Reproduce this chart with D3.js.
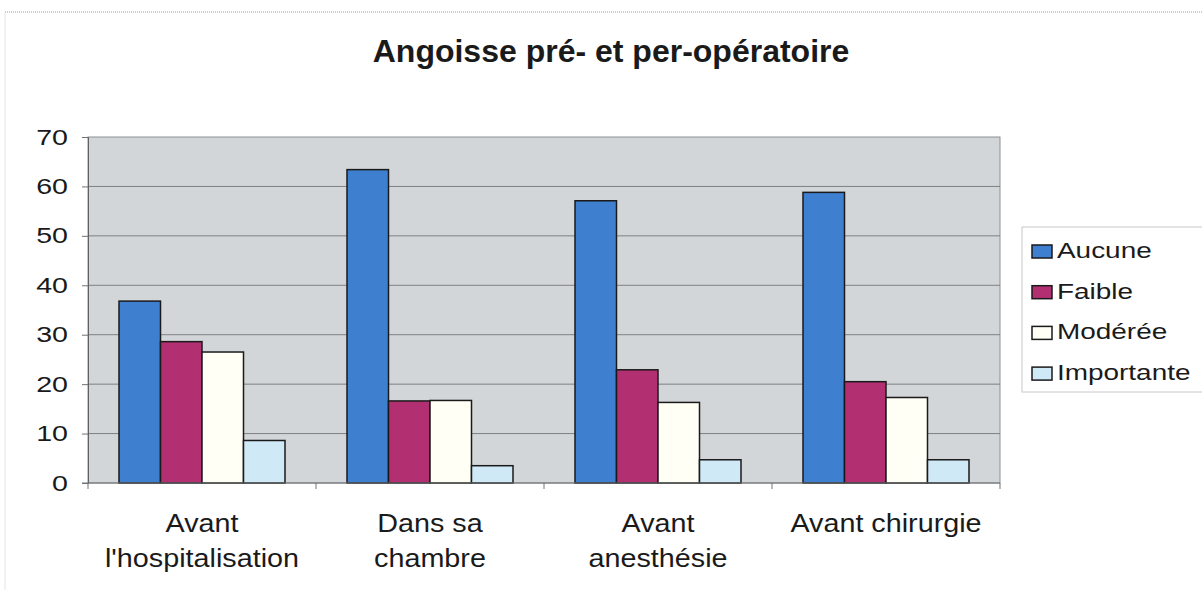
<!DOCTYPE html>
<html>
<head>
<meta charset="utf-8">
<script src="https://cdn.jsdelivr.net/npm/d3@7"></script>
<style>
  body { margin: 0; background: #fff; }
  text { font-family: "Liberation Sans", Arial, sans-serif; fill: #1a1a1a; }
</style>
</head>
<body>
<div id="chart"></div>
<script>
const title = "Angoisse pré- et per-opératoire";
const categories = [
  ["Avant", "l'hospitalisation"],
  ["Dans sa", "chambre"],
  ["Avant", "anesthésie"],
  ["Avant chirurgie"]
];
const seriesNames = ["Aucune", "Faible", "Modérée", "Importante"];
const aucune = [36.8, 63.4, 57.1, 58.8];
const faible = [28.6, 16.6, 22.9, 20.5];
const moderee = [26.5, 16.7, 16.3, 17.3];
const importante = [8.6, 3.5, 4.7, 4.7];
const yTicks = [0, 10, 20, 30, 40, 50, 60, 70];

const seriesValues = [aucune, faible, moderee, importante];
const colors = ["#3f7fd0", "#b23071", "#fffff6", "#cfe9f7"];

const width = 1202, height = 596;
const margin = { left: 88, right: 202, top: 137, bottom: 113 };
const plotW = width - margin.left - margin.right;
const plotH = height - margin.top - margin.bottom;
const stretch = 1.3;    // the scanned tick text is wider than it is tall
const catStretch = 1.15;

const svg = d3.select("#chart").append("svg")
  .attr("width", width)
  .attr("height", height);

// page frame (thin dotted top line and faint left edge)
svg.append("line")
  .attr("x1", 5).attr("x2", width).attr("y1", 12).attr("y2", 12)
  .attr("stroke", "#9a9a9a").attr("stroke-dasharray", "1,1");
svg.append("line")
  .attr("x1", 5).attr("x2", 5).attr("y1", 12).attr("y2", 590)
  .attr("stroke", "#e4e4e4");

svg.append("text")
  .attr("x", 611).attr("y", 62)
  .attr("text-anchor", "middle")
  .attr("font-size", 32)
  .attr("font-weight", "bold")
  .text(title);

const g = svg.append("g").attr("transform", `translate(${margin.left},${margin.top})`);

const x0 = d3.scaleBand().domain(d3.range(categories.length)).range([0, plotW]);
const x1 = d3.scaleBand().domain(d3.range(seriesNames.length)).range([31, x0.bandwidth() - 31]);
const y = d3.scaleLinear().domain([0, 70]).range([plotH, 0]);

g.append("rect")
  .attr("width", plotW).attr("height", plotH)
  .attr("fill", "#d3d6d8")
  .attr("stroke", "#8c8f92");

g.append("g")
  .selectAll("line")
  .data(yTicks.filter(d => d > 0 && d < 70))
  .join("line")
  .attr("x1", 0).attr("x2", plotW)
  .attr("y1", d => y(d)).attr("y2", d => y(d))
  .attr("stroke", "#7d8083");

// y axis
const yAxis = g.append("g")
  .call(d3.axisLeft(y).tickValues(yTicks).tickSize(6).tickPadding(14));
yAxis.select(".domain").attr("stroke", "#5f6265");
yAxis.selectAll(".tick line").attr("stroke", "#6f7275");
yAxis.selectAll(".tick text")
  .attr("font-size", 22)
  .attr("fill", "#1a1a1a")
  .attr("font-family", "Liberation Sans, Arial, sans-serif")
  .attr("x", -20 / stretch)
  .attr("transform", `scale(${stretch},1)`);

// bars
const groups = g.append("g")
  .selectAll("g")
  .data(categories.map((c, i) => i))
  .join("g")
  .attr("transform", i => `translate(${x0(i)},0)`);

groups.selectAll("rect")
  .data(i => seriesValues.map((s, k) => ({ k, v: s[i] })))
  .join("rect")
  .attr("x", d => x1(d.k))
  .attr("width", x1.bandwidth())
  .attr("y", d => y(d.v))
  .attr("height", d => plotH - y(d.v))
  .attr("fill", d => colors[d.k])
  .attr("stroke", "#1a1a1a")
  .attr("stroke-width", 1.5);

// x axis
const xAxis = g.append("g")
  .attr("transform", `translate(0,${plotH})`);
xAxis.append("line")
  .attr("x1", -6).attr("x2", plotW)
  .attr("stroke", "#6f7275");
xAxis.selectAll(".xt")
  .data(d3.range(categories.length + 1))
  .join("line")
  .attr("class", "xt")
  .attr("x1", i => i * x0.bandwidth()).attr("x2", i => i * x0.bandwidth())
  .attr("y1", 0).attr("y2", 6)
  .attr("stroke", "#6f7275");

const labels = xAxis.append("g")
  .attr("transform", `scale(${catStretch},1)`)
  .selectAll(".xl")
  .data(categories.map((c, i) => ({ c, i })))
  .join("text")
  .attr("class", "xl")
  .attr("text-anchor", "middle")
  .attr("font-size", 25)
  .attr("y", 49);
labels.selectAll("tspan")
  .data(d => d.c.map(t => ({ t, x: (x0(d.i) + x0.bandwidth() / 2) / catStretch })))
  .join("tspan")
  .attr("x", d => d.x)
  .attr("dy", (d, j) => j === 0 ? 0 : 35)
  .text(d => d.t);

// legend
const legend = svg.append("g").attr("transform", "translate(1022,227)");
legend.append("rect")
  .attr("width", 184).attr("height", 165)
  .attr("fill", "#fff")
  .attr("stroke", "#c8c8c8");
const items = legend.selectAll(".li")
  .data(seriesNames)
  .join("g")
  .attr("class", "li")
  .attr("transform", (d, i) => `translate(10,${31 + i * 40.7})`);
items.append("rect")
  .attr("x", 0).attr("y", -13)
  .attr("width", 20).attr("height", 13)
  .attr("fill", (d, i) => colors[i])
  .attr("stroke", "#1a1a1a")
  .attr("stroke-width", 1.5);
items.append("text")
  .attr("x", 25 / 1.27)
  .attr("y", 0)
  .attr("font-size", 22)
  .attr("transform", "scale(1.27,1)")
  .text(d => d);
</script>
</body>
</html>
